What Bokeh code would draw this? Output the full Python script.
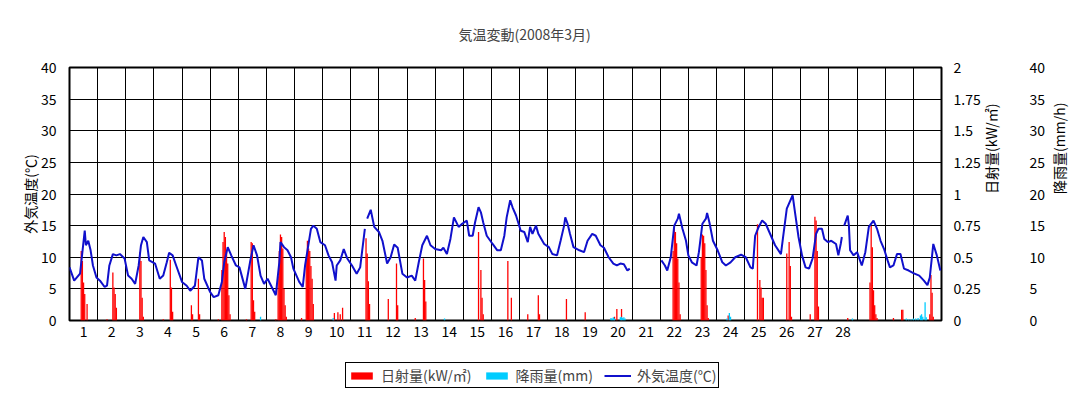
import math
from bokeh.plotting import figure
from bokeh.layouts import column
from bokeh.models import (Range1d, LinearAxis, FixedTicker, Legend, LegendItem,
                          NumeralTickFormatter)
from bokeh.embed import file_html
from bokeh.resources import INLINE

NaN = float("nan")

title_text = "気温変動(2008年3月)"
left_label = "外気温度(℃)"
rad_label = "日射量(kW/㎡)"
rain_label = "降雨量(mm/h)"
legend_labels = ["日射量(kW/㎡)", "降雨量(mm)", "外気温度(℃)"]
day_labels = [str(d) for d in range(1, 29)]
n_days = 31

# hour of month (0 = 1 Mar 00:00) and outside temperature (°C)
temp_hours = [
    0, 4, 9, 11, 13, 14, 16, 18, 20, 23,
    26, 30, 32, 34, 37, 40, 43, 47,
    50, 53, 56, 59, 61, 63, 66, 68,
    73, 77, 80, 83, 85, 88, 91,
    96, 100, 103, 107, 110, 113, 115,
    120, 123, 127, 130, 132, 135, 138, 142, 145,
    150, 154, 157, 160, 163, 166,
    169, 172, 176, 179, 180, 183, 186, 189, 191,
    196, 199, 201, 206, 208, 211, 214,
    218, 221, 224, 227, 228, 231, 234, 237,
    241, 245, 248, 252, 253, 254, 257, 260,
    264, 267, 271, 274, 277, 280, 284,
    288, 292, 295, 298, 301, 305, 308,
    312, 317, 319, 322, 325, 328, 332, 335,
    339, 341, 344, 346, 349, 351, 353, 356,
    361, 365, 368, 371, 373, 376, 378, 381,
    385, 388, 391, 393, 395, 398, 400, 405,
    409, 412, 416, 419, 422, 423, 425, 427, 430,
    435, 439, 442, 446, 449, 453,
    456, 460, 464, 467, 470, 473, 476, 478,
    490,
    505, 508, 510, 513, 516, 519, 520, 523, 526,
    528, 531, 535, 537, 540, 543, 544, 546, 549,
    553, 557, 560, 564, 568, 573,
    577, 581, 583, 585, 588, 591, 594, 598,
    602, 607, 609, 612, 617, 619, 622,
    625, 628, 631, 634, 637, 639, 642, 644, 647,
    650, 654, 656, 658, 659, 660, 661, 664, 665, 666, 669,
    672, 676, 679, 682, 686, 689, 692, 695,
    698, 700, 703, 706, 709, 712, 716,
    720, 725, 729, 732, 734, 737, 740, 743,
]
temp_c = [
    8.4, 6.3, 7.4, 10.8, 14.2, 11.9, 12.6, 11.1, 8.7, 6.8,
    6.3, 5.3, 5.5, 8.7, 10.5, 10.3, 10.5, 9.8,
    7.1, 6.6, 5.8, 8.7, 11.9, 13.2, 12.4, 9.5,
    9.0, 6.6, 7.1, 9.2, 10.7, 10.3, 8.7,
    6.1, 5.5, 4.7, 5.5, 10.0, 9.5, 6.6,
    4.5, 3.7, 4.0, 6.1, 9.2, 11.6, 10.3, 8.7, 8.4,
    5.0, 9.2, 11.9, 10.3, 7.1, 5.8,
    6.6, 5.5, 4.0, 9.2, 12.4, 11.6, 11.1, 10.0, 8.2,
    6.1, 5.3, 8.7, 14.5, 15.0, 14.5, 12.4,
    11.9, 10.3, 9.2, 6.3, 8.7, 9.5, 11.3, 9.8,
    8.7, 7.4, 8.4, 14.5, NaN, 16.1, 17.5, 14.8,
    14.0, 12.6, 9.0, 10.0, 12.0, 11.5, 7.4,
    6.8, 7.1, 6.3, 9.2, 11.9, 13.4, 11.9,
    11.3, 11.1, 11.5, 10.5, 12.9, 16.3, 14.8, 15.3,
    15.8, 13.4, 13.4, 15.5, 17.9, 17.1, 15.5, 13.4,
    12.1, 11.1, 11.1, 13.4, 16.3, 19.0, 17.9, 16.6,
    14.2, 14.0, 12.4, 14.8, 13.7, 15.0, 13.7, 12.1,
    11.6, 10.5, 10.3, 12.6, 15.0, 16.3, 15.3, 13.7, 11.6,
    11.1, 10.8, 12.6, 13.7, 13.4, 11.9,
    11.5, 10.0, 9.0, 8.7, 9.0, 8.9, 7.9, 8.2,
    NaN,
    9.5, 8.7, 7.9, 10.0, 15.0, 16.1, 16.9, 14.5, 12.6,
    10.3, 9.2, 8.7, 10.8, 15.3, 16.1, 17.0, 15.5, 12.6,
    11.1, 9.2, 8.7, 9.2, 10.0, 10.4,
    10.0, 8.4, 8.2, 13.4, 14.8, 15.8, 15.3, 13.6,
    11.9, 10.5, 13.4, 17.7, 19.8, 17.1, 13.2,
    10.3, 8.4, 8.2, 9.8, 13.7, 14.5, 14.5, 12.9, 12.4,
    12.6, 12.1, 10.3, 12.1, 13.2, NaN, 15.0, 16.6, 15.0, 11.1, 10.3,
    10.8, 8.7, 10.8, 14.8, 15.8, 14.5, 12.6, 11.3,
    9.5, 8.4, 8.7, 10.5, 10.5, 8.2, 7.9,
    7.5, 7.1, 6.3, 5.6, 6.8, 12.1, 10.3, 7.9,
]

# hourly solar radiation (kW/m2), non-zero hours only
rad_hours = [
    10, 11, 12, 13, 15,
    32, 37, 38, 39, 40,
    60, 61, 62, 63,
    80, 86, 87, 88,
    104, 105, 110, 111,
    127, 130, 131, 132, 133, 134, 135, 136, 137,
    151, 155, 156, 157, 158,
    176, 178, 179, 180, 181, 182, 183, 184, 185,
    198, 202, 203, 204, 205, 206, 207, 208,
    226, 229, 231, 233,
    253, 254, 255, 256,
    272, 279, 280,
    295, 302, 303, 304,
    349, 351, 352, 353,
    374, 377,
    391, 400, 401,
    424,
    440,
    465, 467, 471,
    515, 516, 517, 518, 519, 520, 521,
    539, 540, 541, 542, 543, 544, 545,
    562,
    587, 589, 590, 591, 592,
    612, 614, 615, 616,
    632, 636, 637, 638, 639,
    664,
    683, 684, 685, 686, 687, 688, 689,
    703, 710, 711,
    734, 735, 736, 737,
]
rad_kw = [
    0.55, 0.47, 0.30, 0.21, 0.13,
    0.01, 0.38, 0.26, 0.21, 0.10,
    0.54, 0.47, 0.18, 0.03,
    0.01, 0.48, 0.26, 0.07,
    0.12, 0.05, 0.33, 0.05,
    0.01, 0.40, 0.62, 0.70, 0.66, 0.55, 0.45, 0.20, 0.05,
    0.01, 0.62, 0.61, 0.16, 0.07,
    0.01, 0.35, 0.55, 0.68, 0.66, 0.57, 0.25, 0.12, 0.03,
    0.02, 0.49, 0.63, 0.57, 0.55, 0.43, 0.33, 0.13,
    0.06, 0.065, 0.05, 0.10,
    0.65, 0.53, 0.31, 0.13,
    0.17, 0.45, 0.12,
    0.02, 0.49, 0.32, 0.15,
    0.70, 0.40, 0.18, 0.05,
    0.47, 0.18,
    0.05, 0.20, 0.05,
    0.17,
    0.065,
    0.03, 0.09, 0.09,
    0.55, 0.74, 0.70, 0.61, 0.49, 0.30, 0.05,
    0.50, 0.68, 0.67, 0.61, 0.40, 0.12, 0.02,
    0.04,
    0.76, 0.32, 0.26, 0.18, 0.18,
    0.53, 0.62, 0.43, 0.03,
    0.05, 0.82, 0.79, 0.55, 0.11,
    0.02,
    0.30, 0.75, 0.58, 0.24, 0.12, 0.05, 0.02,
    0.02, 0.085, 0.085,
    0.05, 0.36, 0.22, 0.03,
]

# hourly rainfall (mm/h), non-zero hours only
rain_hours = [163, 225, 320, 462, 463, 464, 465, 470, 471, 472, 473, 474,
              561, 563, 564, 668, 714, 716, 718, 720, 722, 724, 726, 727,
              728, 730, 731]
rain_mm = [0.6, 0.4, 0.3, 0.4, 0.3, 0.5, 0.3, 0.5, 0.6, 0.4, 0.5, 0.3,
           0.3, 1.2, 0.6, 0.3, 0.3, 0.2, 0.2, 0.3, 0.3, 0.4, 0.8, 1.0,
           0.6, 2.9, 0.5]

assert len(temp_hours) == len(temp_c)
assert len(rad_hours) == len(rad_kw)
assert len(rain_hours) == len(rain_mm)

FONT = "Noto Sans CJK JP"
FS = "14px"
RED = "#FF0000"
CYAN = "#00CCFF"
BLUE = "#1010CC"

p = figure(width=1082, height=350, output_backend="svg", toolbar_location=None,
           x_range=Range1d(0, 24 * n_days), y_range=Range1d(0, 40),
           min_border_left=69, min_border_right=141, min_border_top=67,
           min_border_bottom=30, background_fill_color="white",
           border_fill_color="white")
p.extra_y_ranges = {"rad": Range1d(0, 2), "rain": Range1d(0, 40)}

p.title.text = title_text
p.title.align = "left"
p.title.offset = 389
p.title.text_font = FONT
p.title.text_font_size = FS
p.title.text_font_style = "normal"
p.title.vertical_align = "top"
p.title.standoff = 44

p.outline_line_color = "black"
p.outline_line_width = 2
p.outline_line_alpha = 1

def style_axis(ax):
    ax.major_tick_line_color = None
    ax.minor_tick_line_color = None
    ax.major_tick_out = 0
    ax.major_tick_in = 0
    ax.minor_tick_out = 0
    ax.minor_tick_in = 0
    ax.axis_line_color = None
    ax.major_label_text_font = FONT
    ax.major_label_text_font_size = FS
    ax.major_label_text_color = "black"
    ax.axis_label_text_font = FONT
    ax.axis_label_text_font_size = FS
    ax.axis_label_text_font_style = "normal"
    ax.axis_label_text_color = "black"

# x axis: day labels centred in each day column
xa = p.xaxis[0]
style_axis(xa)
xa.ticker = FixedTicker(ticks=[24 * i + 12 for i in range(len(day_labels))])
xa.major_label_overrides = {24 * i + 12: lab for i, lab in enumerate(day_labels)}
xa.major_label_standoff = 5

ya = p.yaxis[0]
style_axis(ya)
ya.ticker = FixedTicker(ticks=list(range(0, 41, 5)))
ya.axis_label = left_label
ya.major_label_standoff = 13
ya.axis_label_standoff = -2

p.xgrid.ticker = FixedTicker(ticks=[24 * i for i in range(n_days + 1)])
p.xgrid.grid_line_color = "black"
p.xgrid.grid_line_alpha = 1
p.xgrid.grid_line_width = 1
p.ygrid.grid_line_color = "black"
p.ygrid.grid_line_alpha = 1
p.ygrid.grid_line_width = 1

rad_axis = LinearAxis(y_range_name="rad", axis_label=rad_label)
style_axis(rad_axis)
rad_axis.ticker = FixedTicker(ticks=[0, 0.25, 0.5, 0.75, 1, 1.25, 1.5, 1.75, 2])
rad_axis.formatter = NumeralTickFormatter(format="0.[00]")
rad_axis.major_label_standoff = 12
rad_axis.axis_label_standoff = 7
rad_axis.axis_label_orientation = math.pi / 2
p.add_layout(rad_axis, "right")

rain_axis = LinearAxis(y_range_name="rain", axis_label=rain_label)
style_axis(rain_axis)
rain_axis.ticker = FixedTicker(ticks=list(range(0, 41, 5)))
rain_axis.major_label_standoff = 16
rain_axis.axis_label_standoff = 11
rain_axis.axis_label_orientation = math.pi / 2
p.add_layout(rain_axis, "right")

p.vbar(x=rad_hours, top=rad_kw, width=1.1, bottom=0,
       fill_color=RED, line_color=None, y_range_name="rad")
p.vbar(x=rain_hours, top=rain_mm, width=1.1, bottom=0,
       fill_color=CYAN, line_color=None, y_range_name="rain")
p.line(x=temp_hours, y=temp_c, line_color=BLUE, line_width=2)

# legend strip under the chart (same glyph styles as the series;
# the sample renderers hold a single NaN so nothing is drawn in the strip)
pl = figure(width=1082, height=47, output_backend="svg", toolbar_location=None,
            x_range=Range1d(0, 1), y_range=Range1d(0, 1),
            x_axis_location=None, y_axis_location=None,
            min_border_left=0, min_border_right=0, min_border_top=0,
            min_border_bottom=0, background_fill_color="white",
            border_fill_color="white", outline_line_color=None)
pl.xgrid.visible = False
pl.ygrid.visible = False
lr1 = pl.vbar(x=[NaN], top=[NaN], width=1, fill_color=RED, line_color=None)
lr2 = pl.vbar(x=[NaN], top=[NaN], width=1, fill_color=CYAN, line_color=None)
lr3 = pl.line(x=[NaN], y=[NaN], line_color=BLUE, line_width=2)

legend = Legend(items=[LegendItem(label=legend_labels[0], renderers=[lr1]),
                       LegendItem(label=legend_labels[1], renderers=[lr2]),
                       LegendItem(label=legend_labels[2], renderers=[lr3])],
                orientation="horizontal", location=(276, 9))
legend.margin = 0
legend.padding = 2
legend.spacing = 11
legend.glyph_width = 27
legend.glyph_height = 9
legend.label_height = 16
legend.label_text_font = FONT
legend.label_text_font_size = FS
legend.label_standoff = 6
legend.border_line_color = "black"
legend.border_line_width = 1
legend.border_line_alpha = 1
legend.background_fill_color = "white"
legend.background_fill_alpha = 1
pl.add_layout(legend, "center")

layout = column(p, pl, spacing=0)
open("out.html", "w").write(file_html(layout, INLINE))
